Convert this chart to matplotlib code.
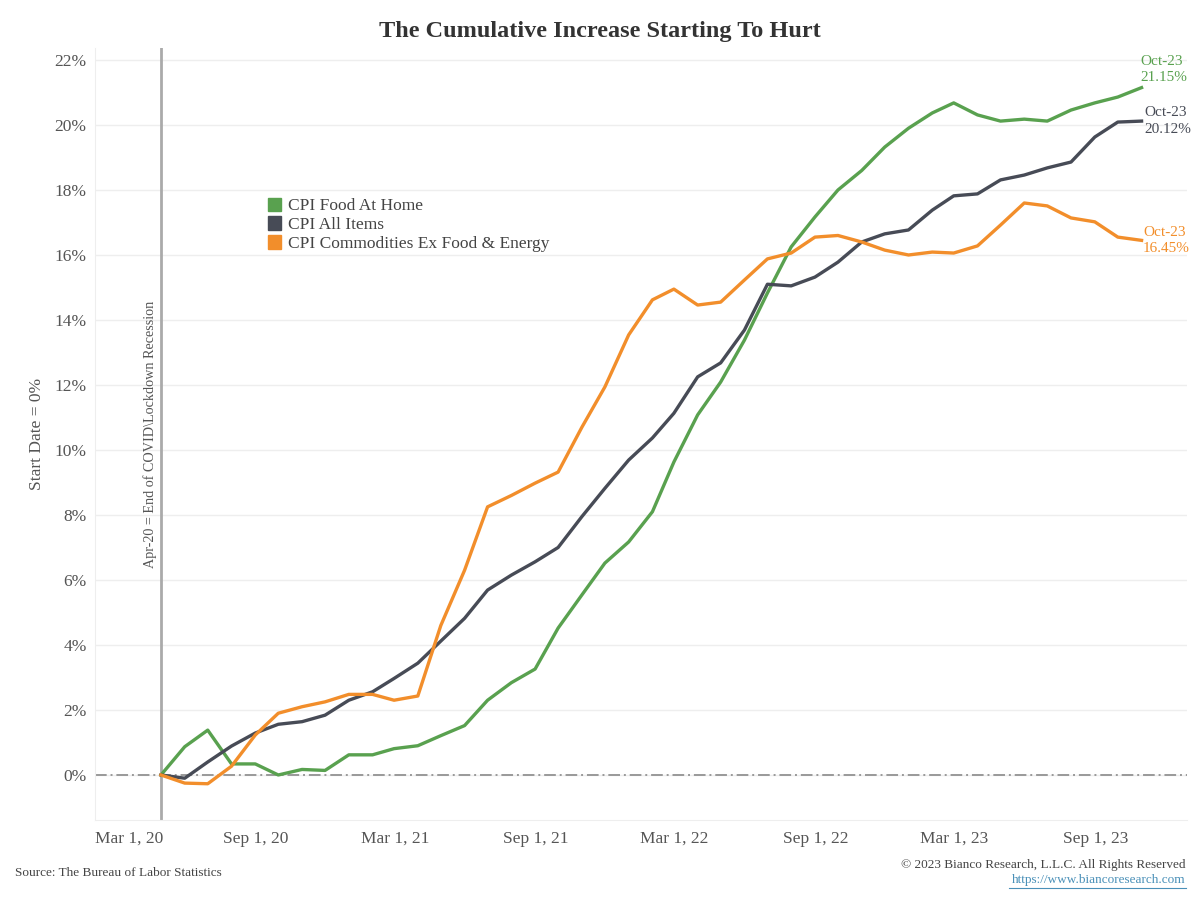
import matplotlib
matplotlib.use("Agg")
import matplotlib.pyplot as plt
import matplotlib.dates as mdates
from matplotlib.patches import Patch
from matplotlib.transforms import ScaledTranslation
import pandas as pd

# monthly, Apr-20 .. Oct-23, cumulative % change since Apr-20
months = pd.date_range("2020-04-30", "2023-10-31", freq="ME")

food_at_home = [0.0, 0.87, 1.38, 0.34, 0.34, 0.0, 0.17, 0.14, 0.62, 0.62, 0.81, 0.90,
                1.21, 1.52, 2.30, 2.84, 3.26, 4.52, 5.54, 6.52, 7.17, 8.10, 9.63, 11.08,
                12.09, 13.38, 14.83, 16.25, 17.17, 18.00, 18.60, 19.32, 19.90, 20.37, 20.68,
                20.31, 20.12, 20.18, 20.12, 20.46, 20.68, 20.86, 21.15]
all_items = [0.0, -0.10, 0.40, 0.89, 1.29, 1.56, 1.64, 1.84, 2.30, 2.56, 2.97, 3.44,
             4.12, 4.82, 5.69, 6.15, 6.56, 7.00, 7.95, 8.82, 9.69, 10.37, 11.13, 12.25,
             12.68, 13.69, 15.10, 15.05, 15.32, 15.78, 16.40, 16.65, 16.77, 17.38, 17.82,
             17.88, 18.31, 18.46, 18.68, 18.86, 19.63, 20.09, 20.12]
core_goods = [0.0, -0.25, -0.27, 0.27, 1.23, 1.90, 2.10, 2.25, 2.48, 2.48, 2.30, 2.43,
              4.60, 6.30, 8.25, 8.60, 8.98, 9.32, 10.70, 11.94, 13.54, 14.62, 14.95, 14.46,
              14.55, 15.23, 15.88, 16.06, 16.55, 16.60, 16.40, 16.15, 16.00, 16.09, 16.06,
              16.28, 16.92, 17.60, 17.51, 17.14, 17.02, 16.55, 16.45]

names = ["CPI Food At Home", "CPI All Items", "CPI Commodities Ex Food & Energy"]
colors = ["#59a14f", "#474b56", "#f28e2b"]
series = [food_at_home, all_items, core_goods]
end_offsets = [(-1, 13), (2, 0), (1, 0)]

plt.rcParams['font.family'] = ['Liberation Serif', 'DejaVu Serif']
txt = "#555555"

fig = plt.figure(figsize=(12, 9), dpi=100)
ax = fig.add_axes([0.0792, 0.0889, 0.9098, 0.8578])

ax.set_ylim(-1.385, 22.37)
ax.set_xlim(pd.Timestamp("2020-02-04"), pd.Timestamp("2023-12-29"))

for y in range(0, 23, 2):
    ax.axhline(y, color="#eeeeee", lw=1, zorder=0)
ax.axhline(0, color="#999999", lw=1.4, ls=(0, (6, 2, 1, 2)), zorder=1)
ax.axvline(months[0], color="#aaaaaa", lw=2, zorder=1)

for vals, c in zip(series, colors):
    ax.plot(months, vals, color=c, lw=2.4, zorder=3)

for vals, c, off in zip(series, colors, end_offsets):
    ax.annotate("Oct-23\n%.2f%%" % vals[-1], (months[-1], vals[-1]), xytext=off,
                textcoords="offset points", ha="left", va="center", color=c,
                fontsize=11, linespacing=1.35)

ax.text(months[0], 6.37, "Apr-20 = End of COVID\\Lockdown Recession", rotation=90,
        ha="right", va="bottom", fontsize=10.2, color=txt,
        transform=ax.transData + ScaledTranslation(-4 / 100, 0, fig.dpi_scale_trans))

handles = [Patch(color=c, label=n) for n, c in zip(names, colors)]
ax.legend(handles=handles, loc="upper left", bbox_to_anchor=(0.152, 0.815), frameon=False,
          fontsize=12.5, handlelength=0.75, handleheight=0.8, handletextpad=0.4,
          labelspacing=0.12, labelcolor="#444444", borderaxespad=0)

ax.set_yticks(range(0, 23, 2))
ax.set_yticklabels(["%d%%" % v for v in range(0, 23, 2)])
ticks = pd.to_datetime(["2020-03-01", "2020-09-01", "2021-03-01", "2021-09-01",
                        "2022-03-01", "2022-09-01", "2023-03-01", "2023-09-01"])
ax.set_xticks(ticks)
ax.xaxis.set_major_formatter(mdates.DateFormatter("%b %-d, %y"))
ax.tick_params(axis="both", length=0, labelsize=12.5, labelcolor=txt, pad=8)
ax.tick_params(axis="y", pad=6)
first = ax.get_xticklabels()[0]
first.set_horizontalalignment("left")
first.set_transform(first.get_transform() + ScaledTranslation(-20 / 100, 0, fig.dpi_scale_trans))

for s in ["top", "right"]:
    ax.spines[s].set_visible(False)
for s in ["left", "bottom"]:
    ax.spines[s].set_color("#eeeeee")
ax.set_ylabel("Start Date = 0%", fontsize=12.5, color=txt, labelpad=7)

fig.text(0.5, 0.965, "The Cumulative Increase Starting To Hurt", ha="center", va="center",
         fontsize=17.5, fontweight="bold", color="#333333")
fig.text(0.0125, 0.030, "Source: The Bureau of Labor Statistics", fontsize=9.5, color="#444444",
         va="center")
fig.text(0.988, 0.039, "\u00a9 2023 Bianco Research, L.L.C. All Rights Reserved", fontsize=9.5,
         color="#444444", ha="right", va="center")
fig.text(0.988, 0.022, "https://www.biancoresearch.com", fontsize=9.5, color="#4a90b8",
         ha="right", va="center")
fig.add_artist(plt.Line2D([0.8405, 0.988], [0.0135, 0.0135], color="#4a90b8", lw=0.8))

fig.savefig("out.png", dpi=100)
